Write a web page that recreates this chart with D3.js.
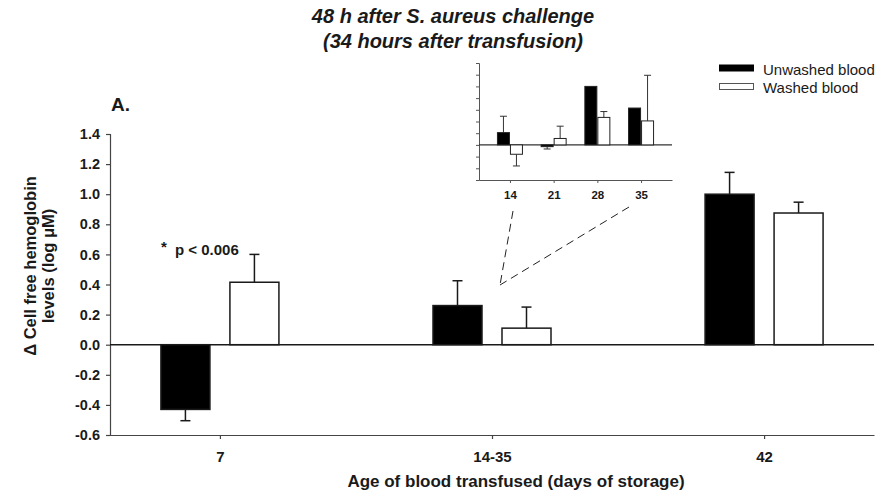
<!DOCTYPE html>
<html>
<head>
<meta charset="utf-8">
<script src="https://cdn.jsdelivr.net/npm/d3@7"></script>
<style>
  body { margin: 0; background: #fff; }
  svg { display: block; font-family: Arial, "Liberation Sans", sans-serif; }
</style>
</head>
<body>
<svg id="chart" width="881" height="498"></svg>
<script>
// Main panel: change in cell-free hemoglobin by storage age
const categories = ["7", "14-35", "42"];
const unwashed = [-0.43, 0.26, 1.00];
const unwashedErr = [0.075, 0.165, 0.145];
const washed = [0.415, 0.11, 0.875];
const washedErr = [0.185, 0.14, 0.072];
const yTicks = [-0.6, -0.4, -0.2, 0.0, 0.2, 0.4, 0.6, 0.8, 1.0, 1.2, 1.4];

// Inset panel: individual storage ages within 14-35 days
const insetCategories = ["14", "21", "28", "35"];
const insetUnwashed = [0.21, -0.03, 1.00, 0.63];
const insetUnwashedErr = [0.28, 0.04, 0, 0];
const insetWashed = [-0.16, 0.11, 0.47, 0.41];
const insetWashedErr = [0.20, 0.21, 0.10, 0.78];
const insetTicks = [-0.6, -0.4, -0.2, 0.0, 0.2, 0.4, 0.6, 0.8, 1.0, 1.2, 1.4];

const svg = d3.select("#chart");
const ink = "#1a1a1a";

// ---------- main scales ----------
const x = d3.scalePoint().domain(categories).range([110, 874]).padding(0.404);
const y = d3.scaleLinear().domain([-0.6, 1.4]).range([435, 134]);

// y axis
const yAxis = svg.append("g").attr("transform", "translate(110,0)")
  .call(d3.axisLeft(y).tickValues(yTicks).tickSize(4).tickPadding(6)
    .tickFormat(d3.format(".1f")));
yAxis.select(".domain").attr("stroke", "#444").attr("stroke-width", 1.2);
yAxis.selectAll(".tick line").attr("stroke", "#444").attr("stroke-width", 1.2);
yAxis.selectAll("text").attr("font-size", 14.5).attr("font-weight", "bold").attr("fill", ink)
  .text(d => d3.format(".1f")(d).replace("−", "-"));

// x axis at bottom
const xAxis = svg.append("g").attr("transform", `translate(0,${y(-0.6)})`)
  .call(d3.axisBottom(x).tickSize(4).tickPadding(12).tickSizeOuter(0));
xAxis.select(".domain").attr("stroke", "#444").attr("stroke-width", 1.2);
xAxis.selectAll(".tick line").attr("stroke", "#444").attr("stroke-width", 1.2);
xAxis.selectAll("text").attr("font-size", 15).attr("font-weight", "bold").attr("fill", ink);

// zero line
svg.append("line").attr("x1", 110).attr("x2", 874).attr("y1", y(0)).attr("y2", y(0))
  .attr("stroke", ink).attr("stroke-width", 1.5);

// bars
const barW = 49, gap = 10;
function drawBars(vals, errs, offset, fill) {
  const g = svg.append("g");
  categories.forEach((c, i) => {
    const v = vals[i], e = errs[i];
    const x0 = x(c) + offset;
    g.append("rect")
      .attr("x", x0).attr("width", barW)
      .attr("y", y(Math.max(0, v))).attr("height", Math.abs(y(v) - y(0)))
      .attr("fill", fill).attr("stroke", ink).attr("stroke-width", 1.5);
    const tip = v >= 0 ? v + e : v - e;
    const cx = x0 + barW / 2;
    g.append("line").attr("x1", cx).attr("x2", cx).attr("y1", y(v)).attr("y2", y(tip))
      .attr("stroke", ink).attr("stroke-width", 1.5);
    g.append("line").attr("x1", cx - 5).attr("x2", cx + 5).attr("y1", y(tip)).attr("y2", y(tip))
      .attr("stroke", ink).attr("stroke-width", 1.5);
  });
}
drawBars(unwashed, unwashedErr, -gap - barW, "#000");
drawBars(washed, washedErr, gap, "#fff");

// significance note
svg.append("text").attr("x", 161).attr("y", 252).attr("font-size", 15).attr("font-weight", "bold")
  .attr("fill", ink).text("*");
svg.append("text").attr("x", 175).attr("y", 255).attr("font-size", 15).attr("font-weight", "bold")
  .attr("fill", ink).text("p < 0.006");

// panel letter
svg.append("text").attr("x", 111).attr("y", 111).attr("font-size", 19).attr("font-weight", "bold")
  .attr("fill", ink).text("A.");

// titles
const title = svg.append("text").attr("text-anchor", "middle").attr("font-size", 20)
  .attr("font-weight", "bold").attr("font-style", "italic").attr("fill", ink);
title.append("tspan").attr("x", 453).attr("y", 23).text("48 h after S. aureus challenge");
title.append("tspan").attr("x", 453).attr("y", 48).text("(34 hours after transfusion)");

// axis titles
svg.append("text").attr("x", 516).attr("y", 487).attr("text-anchor", "middle")
  .attr("font-size", 17).attr("font-weight", "bold").attr("fill", ink)
  .text("Age of blood transfused (days of storage)");
const yt = svg.append("text").attr("transform", "translate(0,266) rotate(-90)")
  .attr("text-anchor", "middle").attr("font-size", 16.5).attr("font-weight", "bold").attr("fill", ink);
yt.append("tspan").attr("x", 0).attr("y", 36).text("Δ Cell free hemoglobin");
yt.append("tspan").attr("x", 0).attr("y", 54).text("levels (log μM)");

// legend
const legend = svg.append("g");
const legendItems = [["Unwashed blood", "#000"], ["Washed blood", "#fff"]];
legendItems.forEach(([label, fill], i) => {
  legend.append("rect").attr("x", 719.5).attr("y", 65 + i * 18.5).attr("width", 34).attr("height", 6)
    .attr("fill", fill).attr("stroke", fill === "#000" ? "#000" : "#555").attr("stroke-width", 1);
  legend.append("text").attr("x", 763).attr("y", 74.5 + i * 18.5).attr("font-size", 15)
    .attr("fill", ink).text(label);
});

// ---------- inset ----------
const ix = d3.scalePoint().domain(insetCategories).range([479, 672]).padding(0.708);
const iy = d3.scaleLinear().domain([-0.6, 1.4]).range([180, 63]);

const iyAxis = svg.append("g").attr("transform", "translate(479,0)")
  .call(d3.axisLeft(iy).tickValues(insetTicks).tickSize(3).tickFormat(""));
iyAxis.select(".domain").attr("stroke", "#555").attr("stroke-width", 1);
iyAxis.selectAll(".tick line").attr("stroke", "#555").attr("stroke-width", 1);

const ixAxis = svg.append("g").attr("transform", `translate(0,${iy(-0.6)})`)
  .call(d3.axisBottom(ix).tickSize(3).tickPadding(8).tickSizeOuter(0));
ixAxis.select(".domain").attr("stroke", "#555").attr("stroke-width", 1);
ixAxis.selectAll(".tick line").attr("stroke", "#555").attr("stroke-width", 1);
ixAxis.selectAll("text").attr("font-size", 11.5).attr("font-weight", "bold").attr("fill", ink);

svg.append("line").attr("x1", 479).attr("x2", 672).attr("y1", iy(0)).attr("y2", iy(0))
  .attr("stroke", "#333").attr("stroke-width", 1.2);

const iBarW = 12;
function drawInsetBars(vals, errs, offset, fill) {
  const g = svg.append("g");
  insetCategories.forEach((c, i) => {
    const v = vals[i], e = errs[i];
    const x0 = ix(c) + offset;
    const cx = x0 + iBarW / 2;
    if (e > 0) {
      const tip = v >= 0 ? v + e : v - e;
      g.append("line").attr("x1", cx).attr("x2", cx).attr("y1", iy(v)).attr("y2", iy(tip))
        .attr("stroke", "#333").attr("stroke-width", 1);
      g.append("line").attr("x1", cx - 3.5).attr("x2", cx + 3.5).attr("y1", iy(tip)).attr("y2", iy(tip))
        .attr("stroke", "#333").attr("stroke-width", 1);
    }
    g.append("rect")
      .attr("x", x0).attr("width", iBarW)
      .attr("y", iy(Math.max(0, v))).attr("height", Math.abs(iy(v) - iy(0)))
      .attr("fill", fill).attr("stroke", "#222").attr("stroke-width", 1);
  });
}
drawInsetBars(insetUnwashed, insetUnwashedErr, -12.5, "#000");
drawInsetBars(insetWashed, insetWashedErr, 0.5, "#fff");

// dashed leader lines from the inset to the 14-35 group
const leaders = [[[513, 211], [500, 285]], [[629, 207], [500, 285]]];
leaders.forEach(pts => {
  svg.append("path").attr("d", d3.line()(pts)).attr("fill", "none")
    .attr("stroke", "#222").attr("stroke-width", 1).attr("stroke-dasharray", "8,5");
});
</script>
</body>
</html>
